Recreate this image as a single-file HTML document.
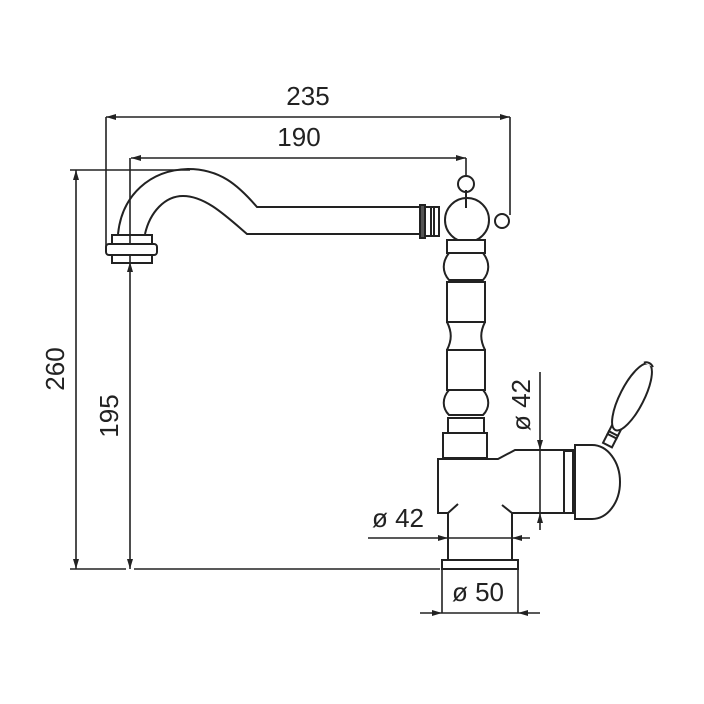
<!DOCTYPE html>
<html><head><meta charset="utf-8"><style>html,body{margin:0;padding:0;background:#fff}svg{display:block}</style></head>
<body>
<svg width="704" height="704" viewBox="0 0 704 704" xmlns="http://www.w3.org/2000/svg" font-family="Liberation Sans, sans-serif" font-size="26" fill="none" stroke="#222" stroke-width="2">
<defs>
<marker id="a" viewBox="0 0 10 6" refX="10" refY="3" markerWidth="10" markerHeight="6" orient="auto-start-reverse" markerUnits="userSpaceOnUse"><path d="M0 0 L10 3 L0 6Z" fill="#222" stroke="none"/></marker>
</defs>
<g stroke-width="1.6">
<line x1="106" y1="117" x2="510" y2="117" marker-start="url(#a)" marker-end="url(#a)"/>
<line x1="106" y1="117" x2="106" y2="248"/>
<path d="M106 248 Q106 252 110 252"/>
<line x1="510" y1="117" x2="510" y2="215"/>
<line x1="131" y1="158" x2="466" y2="158" marker-start="url(#a)" marker-end="url(#a)"/>
<line x1="466" y1="158" x2="466" y2="200"/>
<line x1="76" y1="170" x2="76" y2="569" marker-start="url(#a)" marker-end="url(#a)"/>
<line x1="70" y1="170" x2="190" y2="170"/>
<line x1="70" y1="569" x2="126" y2="569"/>
<line x1="134" y1="569" x2="440" y2="569"/>
<line x1="130" y1="158" x2="130" y2="262"/>
<line x1="130" y1="262" x2="130" y2="569" marker-start="url(#a)" marker-end="url(#a)"/>
<line x1="540" y1="372" x2="540" y2="450" marker-end="url(#a)"/>
<line x1="540" y1="450" x2="540" y2="513"/>
<line x1="540" y1="530" x2="540" y2="513" marker-end="url(#a)"/>
<line x1="368" y1="538" x2="448" y2="538" marker-end="url(#a)"/>
<line x1="448" y1="538" x2="512" y2="538"/>
<line x1="530" y1="538" x2="512" y2="538" marker-end="url(#a)"/>
<line x1="420" y1="613" x2="442" y2="613" marker-end="url(#a)"/>
<line x1="442" y1="613" x2="518" y2="613"/>
<line x1="540" y1="613" x2="518" y2="613" marker-end="url(#a)"/>
<line x1="442" y1="569" x2="442" y2="613"/>
<line x1="518" y1="569" x2="518" y2="613"/>
</g>
<g fill="#222" stroke="none">
<text x="308" y="105" text-anchor="middle">235</text>
<text x="299" y="146" text-anchor="middle">190</text>
<text transform="translate(64,369) rotate(-90)" text-anchor="middle">260</text>
<text transform="translate(118,416) rotate(-90)" text-anchor="middle">195</text>
<text transform="translate(530,405) rotate(-90)" text-anchor="middle">ø 42</text>
<text x="398" y="527" text-anchor="middle">ø 42</text>
<text x="478" y="601" text-anchor="middle">ø 50</text>
</g>
<path d="M118 234 C122 195 150 170 188 169 C220 169 238 185 257 207 L420 207"/>
<path d="M145 234 C150 212 165 196 183 196 C205 196 225 215 247 234 L420 234"/>
<rect x="112" y="235" width="40" height="9"/>
<rect x="106" y="244" width="51" height="11" rx="3" fill="#fff"/>
<rect x="112" y="255" width="40" height="8"/>
<rect x="420" y="205" width="5" height="33" fill="#555"/>
<rect x="425" y="207" width="6" height="29"/>
<rect x="431" y="207" width="8" height="29"/>
<line x1="434" y1="207" x2="434" y2="236"/>
<line x1="439" y1="207" x2="439" y2="236"/>
<circle cx="467" cy="220" r="22" fill="#fff"/>
<circle cx="466" cy="184" r="8" fill="#fff"/>
<circle cx="502" cy="221" r="7" fill="#fff"/>
<line x1="466" y1="190" x2="466" y2="208"/>
<rect x="447" y="240" width="38" height="13" fill="#fff"/>
<path d="M449 253 C442 262 442 272 449 280 L483 280 C490 272 490 262 483 253Z"/>
<rect x="447" y="282" width="38" height="40"/>
<path d="M447 322 C452 332 452 340 447 350 M485 322 C480 332 480 340 485 350"/>
<rect x="447" y="350" width="38" height="40"/>
<path d="M449 390 C442 398 442 408 449 415 L483 415 C490 408 490 398 483 390Z"/>
<rect x="448" y="418" width="36" height="15"/>
<rect x="443" y="433" width="44" height="25"/>
<path d="M458 504 L448 513 L438 513 L438 459 L498 459 L515 450 L573 450 L573 513 L512 513 L502 505"/>
<rect x="564" y="451" width="9" height="62"/>
<path d="M448 513 L448 560 M512 513 L512 560"/>
<rect x="442" y="560" width="76" height="9"/>
<path d="M575 445 L592 445 A28 37 0 0 1 592 519 L575 519 Z" fill="#fff"/>
<g transform="translate(632,397) rotate(-63)">
<rect x="-54" y="-5" width="20" height="10" fill="#fff"/>
<line x1="-44" y1="-6" x2="-44" y2="6"/>
<line x1="-41" y1="-6" x2="-41" y2="6"/>
<ellipse cx="0" cy="0" rx="37" ry="12" fill="#fff"/>
<path d="M36 -5 A7 7 0 0 1 36 5" fill="#fff"/>
</g>
</svg>
</body></html>
